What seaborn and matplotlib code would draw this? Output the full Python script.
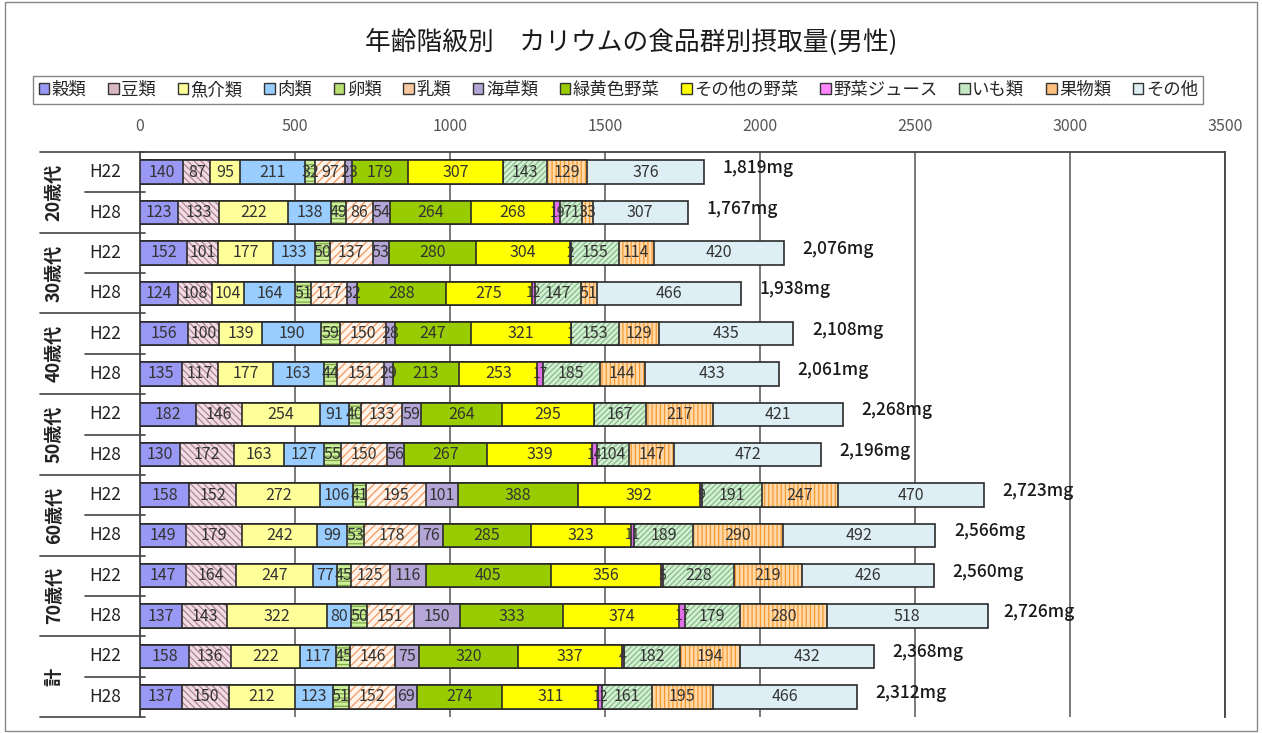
import numpy as np
import pandas as pd
import matplotlib
matplotlib.use("Agg")
import matplotlib.pyplot as plt
import matplotlib.patches as mpatches
import matplotlib.transforms as mtrans
import seaborn as sns

sns.set_style("white")
plt.rcParams["font.family"] = ["Noto Sans CJK JP", "DejaVu Sans"]
plt.rcParams["hatch.linewidth"] = 0.9

# DATA
groups = ["20歳代", "30歳代", "40歳代", "50歳代", "60歳代", "70歳代", "計"]
years = ["H22", "H28"]
rows = [g + " " + y for g in groups for y in years]

foods = ["穀類", "豆類", "魚介類", "肉類", "卵類", "乳類", "海草類", "緑黄色野菜",
         "その他の野菜", "野菜ジュース", "いも類", "果物類", "その他"]

kokurui = [140, 123, 152, 124, 156, 135, 182, 130, 158, 149, 147, 137, 158, 137]
mamerui = [87, 133, 101, 108, 100, 117, 146, 172, 152, 179, 164, 143, 136, 150]
gyokai = [95, 222, 177, 104, 139, 177, 254, 163, 272, 242, 247, 322, 222, 212]
nikurui = [211, 138, 133, 164, 190, 163, 91, 127, 106, 99, 77, 80, 117, 123]
ranrui = [32, 49, 50, 51, 59, 44, 40, 55, 41, 53, 45, 50, 45, 51]
nyurui = [97, 86, 137, 117, 150, 151, 133, 150, 195, 178, 125, 151, 146, 152]
kaiso = [23, 54, 53, 32, 28, 29, 59, 56, 101, 76, 116, 150, 75, 69]
ryokuoshoku = [179, 264, 280, 288, 247, 213, 264, 267, 388, 285, 405, 333, 320, 274]
sonota_yasai = [307, 268, 304, 275, 321, 253, 295, 339, 392, 323, 356, 374, 337, 311]
yasai_juice = [0, 19, 2, 12, 1, 17, 0, 14, 9, 11, 5, 17, 4, 12]
imorui = [143, 71, 155, 147, 153, 185, 167, 104, 191, 189, 228, 179, 182, 161]
kudamono = [129, 33, 114, 51, 129, 144, 217, 147, 247, 290, 219, 280, 194, 195]
sonota = [376, 307, 420, 466, 435, 433, 421, 472, 470, 492, 426, 518, 432, 466]

totals = [1819, 1767, 2076, 1938, 2108, 2061, 2268, 2196, 2723, 2566, 2560, 2726, 2368, 2312]

x_ticks = [0, 500, 1000, 1500, 2000, 2500, 3000, 3500]

# STYLES (face, hatch, hatch colour)
styles = [
    ("#9999F5", None, None),
    ("#F2DCE4", "\\\\\\\\\\", "#B08498"),
    ("#FFFF99", None, None),
    ("#99CCFF", None, None),
    ("#CCF099", "----", "#7FA84A"),
    ("#FFF4EA", "////", "#F09860"),
    ("#B4A6D6", None, None),
    ("#99CC00", None, None),
    ("#FFFF00", None, None),
    ("#E070E8", None, None),
    ("#D4F0D4", "//////", "#88BB88"),
    ("#FFD9A8", "||||", "#F59A30"),
    ("#DDEEF4", None, None),
]
legend_colors = ["#9999F5", "#D9B8C4", "#FFFF99", "#99CCFF", "#B8E070", "#F8C8A0",
                 "#B4A6D6", "#99CC00", "#FFFF00", "#FF88FF", "#C4E8C4", "#FFC080", "#DDEEF4"]

# TABLE
values = [kokurui, mamerui, gyokai, nikurui, ranrui, nyurui, kaiso, ryokuoshoku,
          sonota_yasai, yasai_juice, imorui, kudamono, sonota]
df = pd.DataFrame({f: v for f, v in zip(foods, values)})
df.insert(0, "row", rows)
cum = df[foods].cumsum(axis=1)
for f in foods:
    df["cum_" + f] = cum[f]

fig = plt.figure(figsize=(12.62, 7.33), dpi=100)
ax = fig.add_axes([140 / 1262, 1 - 717 / 733, 1085 / 1262, 565 / 733])

edge = "#2b2b2b"
for i in reversed(range(len(foods))):
    f = foods[i]
    face, hatch, hcol = styles[i]
    n0 = len(ax.patches)
    sns.barplot(data=df, x="cum_" + f, y="row", order=rows, orient="h",
                errorbar=None, width=0.58, ax=ax, zorder=3)
    for p in ax.patches[n0:]:
        p.set_facecolor(face)
        if hatch:
            p.set_hatch(hatch)
            p.set_edgecolor(hcol)
            p.set_linewidth(0)
        else:
            p.set_edgecolor(edge)
            p.set_linewidth(1.2)
    if hatch:
        n1 = len(ax.patches)
        sns.barplot(data=df, x="cum_" + f, y="row", order=rows, orient="h",
                    errorbar=None, width=0.58, ax=ax, zorder=3)
        for p in ax.patches[n1:]:
            p.set_facecolor("none")
            p.set_edgecolor(edge)
            p.set_linewidth(1.2)

# segment labels
for r in range(len(rows)):
    left = 0
    for i, f in enumerate(foods):
        v = df.loc[r, f]
        if v > 0:
            ax.text(left + v / 2, r, str(v), ha="center", va="center",
                    fontsize=11.5 if v >= 20 else 10, color="#333333", zorder=5)
        left += v
    ax.text(totals[r] + 60, r - 0.1, f"{totals[r]:,}mg", ha="left", va="center",
            fontsize=12.5, fontweight="medium", color="#1a1a1a", zorder=5)

ax.set_xlim(0, 3500)
ax.set_xticks(x_ticks)
ax.xaxis.tick_top()
ax.tick_params(axis="x", length=0, pad=12, labelsize=11.5, labelcolor="#555555")
ax.grid(axis="x", color="#555555", linewidth=1.1, zorder=0)
ax.set_axisbelow(True)
ax.set_xlabel("")
ax.set_ylabel("")
ax.set_yticks(range(len(rows)))
ax.set_yticklabels([])
ax.tick_params(axis="y", length=0)
for s in ["top", "left", "right"]:
    ax.spines[s].set_color("#444444")
    ax.spines[s].set_linewidth(1.3)
ax.spines["bottom"].set_visible(False)

# two level category axis
trans = mtrans.blended_transform_factory(ax.transAxes, ax.transData)
for r, lab in enumerate(rows):
    ax.text(-0.032, r, lab.split(" ")[1], transform=trans, ha="center", va="center",
            fontsize=12.5, color="#222222")
for g, name in enumerate(groups):
    ax.text(-0.079, 2 * g + 0.5, name, transform=trans, ha="center", va="center",
            rotation=90, fontsize=13, fontweight="bold", color="#222222")
    ax.plot([-0.092, 0.005], [2 * g - 0.5, 2 * g - 0.5], transform=trans,
            color="#444444", lw=1.2, clip_on=False)
    ax.plot([-0.051, 0.005], [2 * g + 0.5, 2 * g + 0.5], transform=trans,
            color="#444444", lw=1.2, clip_on=False)
ax.plot([-0.092, 0.005], [len(rows) - 0.5, len(rows) - 0.5], transform=trans,
        color="#444444", lw=1.2, clip_on=False)
ax.set_ylim(len(rows) - 0.5, -0.5)

# legend
handles = [mpatches.Patch(facecolor=c, edgecolor="#333333", linewidth=1) for c in legend_colors]
fig.legend(handles, foods, loc="upper center", bbox_to_anchor=(0.49, 1 - 67 / 733),
           ncol=len(foods), frameon=True, fancybox=False, edgecolor="#666666",
           fontsize=12.5, handlelength=0.6, handleheight=0.6, handletextpad=0.15,
           columnspacing=1.25, borderpad=0.3)

fig.text(0.5, 1 - 42 / 733, "年齢階級別　カリウムの食品群別摂取量(男性)", ha="center",
         va="center", fontsize=18.5, color="#1a1a1a")

fig.patches.append(mpatches.Rectangle((0.004, 0.003), 0.992, 0.994, transform=fig.transFigure,
                                      fill=False, edgecolor="#888888", linewidth=1))

fig.savefig("out.png", dpi=100)
